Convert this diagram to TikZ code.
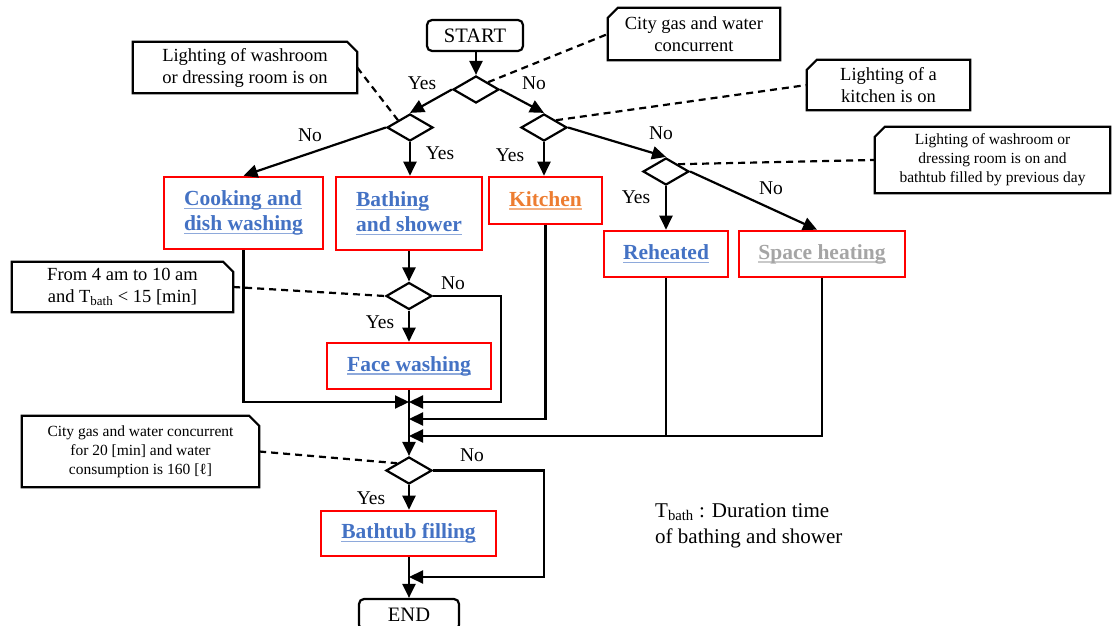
\documentclass[tikz,border=0pt]{standalone}
\usepackage{fontspec}
\setmainfont{Liberation Serif}
\usetikzlibrary{shapes.geometric,arrows.meta}
\definecolor{tblue}{HTML}{4472C4}
\definecolor{ublue}{HTML}{8EA9DB}
\definecolor{torange}{HTML}{ED7D31}
\definecolor{uorange}{HTML}{F4B183}
\definecolor{tgray}{HTML}{A5A5A5}
\definecolor{ugray}{HTML}{C9C9C9}
\newsavebox\ulbox
\newcommand\myul[2]{\sbox\ulbox{#2}\rlap{\color{#1}\rule[-3.5pt]{\wd\ulbox}{1.5pt}}\usebox\ulbox}
\newcommand\boxfont{\fontsize{21.5}{25}\selectfont\bfseries}
\newcommand\cfont{\fontsize{18.5}{22}\selectfont}
\newcommand\csmall{\fontsize{15.5}{19}\selectfont}
\newcommand\chamNE[1]{\draw[cl] (#1.south west) -- (#1.north west) -- ([xshift=-10pt]#1.north east) -- ([yshift=-10pt]#1.north east) -- (#1.south east) -- cycle;}
\newcommand\chamNW[1]{\draw[cl] (#1.south west) -- ([yshift=-10pt]#1.north west) -- ([xshift=10pt]#1.north west) -- (#1.north east) -- (#1.south east) -- cycle;}
\begin{document}
\begin{tikzpicture}[x=1pt,y=-1pt,
  ln/.style={line width=2.2pt, draw=black},
  arr/.style={ln, -{Triangle[length=14pt,width=13pt]}},
  dsh/.style={line width=2.2pt, dash pattern=on 7pt off 5pt},
  cl/.style={line width=2.2pt, line join=miter},
  dia/.style={diamond, draw, line width=2.2pt, minimum width=46pt, minimum height=27pt, inner sep=0pt},
  term/.style={draw, line width=2.2pt, rounded corners=5pt, minimum width=96pt, minimum height=31pt, inner sep=0pt, font=\fontsize{20.5}{24}\selectfont},
  rbox/.style={draw=red, line width=2.6pt, inner sep=0pt, font=\boxfont, text=tblue, align=left},
  callout/.style={inner sep=0pt, align=center, font=\cfont},
  lbl/.style={font=\fontsize{19.5}{22}\selectfont, inner sep=0pt}]
\useasboundingbox (0,0) rectangle (1112,626);
\clip (0,0) rectangle (1112,626);

% terminals
\node[term] (start) at (475,35.5) {START};
\node[term, minimum width=100pt] (end) at (409,614.5) {END};

% decisions
\node[dia] (d1) at (476,89.5) {};
\node[dia] (d2) at (410,127.5) {};
\node[dia] (d3) at (544,127.5) {};
\node[dia] (d4) at (666,171.5) {};
\node[dia] (d5) at (409,296) {};
\node[dia] (d6) at (409,470.5) {};

% processes
\node[rbox, minimum width=159pt, minimum height=72pt] (cook) at (243.5,213) {\myul{ublue}{Cooking and}\\\myul{ublue}{dish washing}};
\node[rbox, minimum width=146pt, minimum height=73pt] (bath) at (409,213.5) {\myul{ublue}{Bathing}\\\myul{ublue}{and shower}};
\node[rbox, minimum width=113pt, minimum height=47pt, text=torange] (kitch) at (545.5,200.5) {\myul{uorange}{Kitchen}};
\node[rbox, minimum width=124pt, minimum height=46pt] (reheat) at (666,254) {\myul{ublue}{Reheated}};
\node[rbox, minimum width=166pt, minimum height=46pt, text=tgray] (space) at (822,254) {\myul{ugray}{Space heating}};
\node[rbox, minimum width=164pt, minimum height=46pt] (face) at (409,366) {\myul{ublue}{Face washing}};
\node[rbox, minimum width=175pt, minimum height=45pt] (tub) at (408.5,533.5) {\myul{ublue}{Bathtub filling}};

% callouts
\node[callout, minimum width=172pt, minimum height=52pt] (c1) at (694,34) {City gas and water\\concurrent};
\chamNW{c1}
\node[callout, minimum width=224pt, minimum height=51pt] (c2) at (245,67.5) {Lighting of washroom\\or dressing room is on};
\chamNE{c2}
\node[callout, minimum width=163pt, minimum height=50pt] (c3) at (888.5,85) {Lighting of a\\kitchen is on};
\chamNW{c3}
\node[callout, minimum width=235pt, minimum height=66pt, font=\csmall] (c4) at (992.5,160) {Lighting of washroom or\\dressing room is on and\\bathtub filled by previous day};
\chamNW{c4}
\node[callout, minimum width=221pt, minimum height=50pt] (c5) at (122.5,287) {From 4 am to 10 am\\and T\textsubscript{bath} < 15 [min]};
\chamNE{c5}
\node[callout, minimum width=237pt, minimum height=71pt, font=\csmall] (c6) at (140.5,451.5) {City gas and water concurrent\\for 20 [min] and water\\consumption is 160 [ℓ]};
\chamNE{c6}

% legend
\node[anchor=west, align=left, inner sep=0pt, font=\fontsize{21}{26}\selectfont] (leg) at (655,526) {T\textsubscript{bath} : Duration time\\of bathing and shower};

% junction coordinates
\coordinate (m1) at (409,402);
\coordinate (j1) at (501,402);
\coordinate (m2) at (409,419);
\coordinate (m3) at (409,436);
\coordinate (j6) at (544,577);
\coordinate (m4) at (409,577);

% dashed leaders
\draw[dsh] (d1.north east) -- (c1.west);
\draw[dsh] (c2.east) -- (d2.north west);
\draw[dsh] (d3.north east) -- (c3.west);
\draw[dsh] (d4.north east) -- (c4.west);
\draw[dsh] (c5.east) -- (d5.west);
\draw[dsh] (c6.east) -- (d6.north west);

% flow
\draw[arr] (start.south -| d1.north) -- (d1.north);
\draw[arr] (d1.west) -- (d2.north);
\draw[arr] (d1.east) -- (d3.north);
\draw[arr] (d2.west) -- (cook.north);
\draw[arr] (d2.south) -- (d2.south |- bath.north);
\draw[arr] (d3.south) -- (d3.south |- kitch.north);
\draw[arr] (d3.east) -- (d4.north);
\draw[arr] (d4.south) -- (reheat.north);
\draw[arr] (d4.east) -- ([xshift=-5pt]space.north);
\draw[arr] (bath.south) -- (d5.north);
\draw[arr] (d5.south) -- (face.north);
\draw[arr] (d5.east) -| (j1) -- (m1);
\draw[arr] (cook.south) |- (m1);
\draw[arr] (face.south) -- (d6.north);
\draw[arr] (kitch.south) |- (m2);
\draw[ln] (reheat.south) -- (reheat.south |- m3);
\draw[arr] (space.south) |- (m3);
\draw[arr] (d6.east) -| (j6) -- (m4);
\draw[arr] (d6.south) -- (d6.south |- tub.north);
\draw[arr] (end.north |- tub.south) -- (end.north);

% branch labels
\node[lbl] (y1) at (422,83) {Yes};
\node[lbl] (n1) at (534,83) {No};
\node[lbl] (n2) at (310,135) {No};
\node[lbl] (y2) at (440,153) {Yes};
\node[lbl] (y3) at (510,155) {Yes};
\node[lbl] (n3) at (661,133) {No};
\node[lbl] (y4) at (636,197) {Yes};
\node[lbl] (n4) at (771,188) {No};
\node[lbl] (n5) at (453,283) {No};
\node[lbl] (y5) at (380,322) {Yes};
\node[lbl] (n6) at (472,455) {No};
\node[lbl] (y6) at (371,498) {Yes};
\end{tikzpicture}
\end{document}
